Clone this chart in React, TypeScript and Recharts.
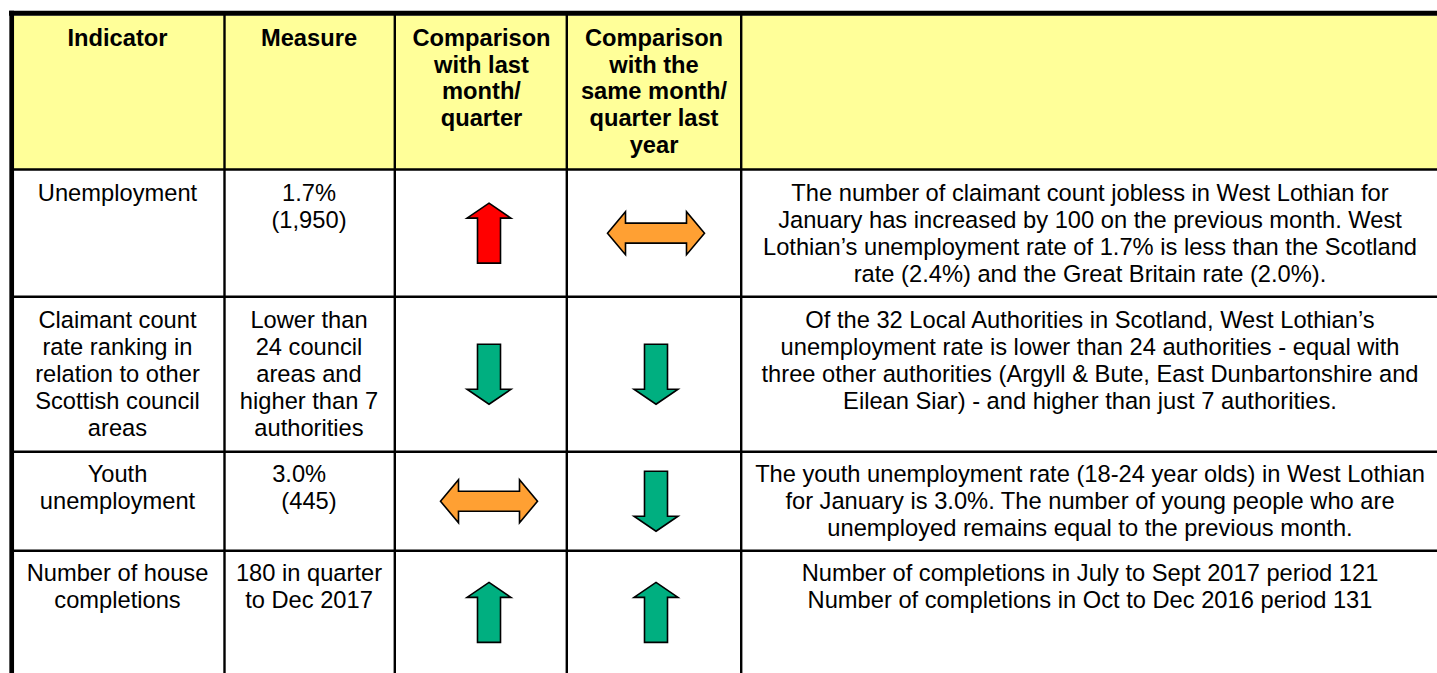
import React from "react";
import { ScatterChart, Scatter, XAxis, YAxis, ReferenceArea, ReferenceLine } from "recharts";

// ---- Table content (data) ----
const headerLabels: string[][] = [
  ["Indicator"],
  ["Measure"],
  ["Comparison", "with last", "month/", "quarter"],
  ["Comparison", "with the", "same month/", "quarter last", "year"],
  [],
];

const indicatorLabels: string[][] = [
  ["Unemployment"],
  ["Claimant count", "rate ranking in", "relation to other", "Scottish council", "areas"],
  ["Youth", "unemployment"],
  ["Number of house", "completions"],
];

const measureLabels: string[][] = [
  ["1.7%", "(1,950)"],
  ["Lower than", "24 council", "areas and", "higher than 7", "authorities"],
  ["3.0%\u00a0\u00a0\u00a0", "(445)"],
  ["180 in quarter", "to Dec 2017"],
];

const commentaryLabels: string[][] = [
  [
    "The number of claimant count jobless in West Lothian for",
    "January has increased by 100 on the previous month. West",
    "Lothian\u2019s unemployment rate of 1.7% is less than the Scotland",
    "rate (2.4%) and the Great Britain rate (2.0%).",
  ],
  [
    "Of the 32 Local Authorities in Scotland, West Lothian\u2019s",
    "unemployment rate is lower than 24 authorities - equal with",
    "three other authorities (Argyll & Bute, East Dunbartonshire and",
    "Eilean Siar) - and higher than just 7 authorities.",
  ],
  [
    "The youth unemployment rate (18-24 year olds) in West Lothian",
    "for January is 3.0%. The number of young people who are",
    "unemployed remains equal to the previous month.",
  ],
  [
    "Number of completions in July to Sept 2017 period 121",
    "Number of completions in Oct to Dec 2016 period 131",
  ],
];

// trend vs last month/quarter and vs same month/quarter last year
const lastPeriodTrend = ["up", "down", "level", "up"];
const lastPeriodOutcome = ["worse", "better", "neutral", "better"];
const lastYearTrend = ["level", "down", "down", "up"];
const lastYearOutcome = ["neutral", "better", "better", "better"];

// ---- Layout (table geometry in chart units = px) ----
const W = 1437;
const H = 673;
const colEdges = [14, 224.5, 394.8, 566.8, 741.2, 1440];
const rowEdges = [13.2, 169.5, 296.8, 451.7, 550.8, 674];
const textCenters = [117.5, 309, 481.5, 654, 1090];
const firstBaselines = [46, 200.7, 327.7, 481.7, 581];
const headerPitch = 26.7;
const bodyPitch = 27;
const arrowCols = [489, 656];
const FONT = "'Liberation Sans', Arial, Helvetica, sans-serif";
const FS = 23.7;

const toneColor: Record<string, string> = {
  worse: "#FF0000",
  better: "#00AF80",
  neutral: "#FFA033",
};

type TextPt = { x: number; y: number; text: string; bold: boolean };
type ArrowPt = { x: number; y: number; dir: string; color: string };

const textPoints: TextPt[] = [];
headerLabels.forEach((lines, c) =>
  lines.forEach((t, i) =>
    textPoints.push({ x: textCenters[c], y: firstBaselines[0] + i * headerPitch, text: t, bold: true })
  )
);
[indicatorLabels, measureLabels, null, null, commentaryLabels].forEach((colData, c) => {
  if (!colData) return;
  colData.forEach((lines, r) =>
    lines.forEach((t, i) =>
      textPoints.push({ x: textCenters[c], y: firstBaselines[r + 1] + i * bodyPitch, text: t, bold: false })
    )
  );
});

const arrowPoints: ArrowPt[] = [];
[ [lastPeriodTrend, lastPeriodOutcome], [lastYearTrend, lastYearOutcome] ].forEach(([trend, outcome], k) =>
  trend.forEach((d, r) =>
    arrowPoints.push({
      x: arrowCols[k],
      y: (rowEdges[r + 1] + rowEdges[r + 2]) / 2,
      dir: d,
      color: toneColor[outcome[r]],
    })
  )
);

const TextShape = (props: any) => {
  const { cx, cy, payload } = props;
  return (
    <text
      x={cx}
      y={cy}
      textAnchor="middle"
      fontFamily={FONT}
      fontSize={FS}
      fontWeight={payload.bold ? 700 : 400}
      fill="#000"
      style={{ whiteSpace: "pre" }}
    >
      {payload.text}
    </text>
  );
};

const ArrowShape = (props: any) => {
  const { cx, cy, payload } = props;
  let pts: number[][];
  if (payload.dir === "up" || payload.dir === "down") {
    const hw = 22, sw = 11.5, hh = 30, head = 15;
    pts = [
      [0, -hh], [hw, -hh + head], [sw, -hh + head], [sw, hh], [-sw, hh], [-sw, -hh + head], [-hw, -hh + head],
    ];
    if (payload.dir === "down") pts = pts.map(([x, y]) => [x, -y]);
  } else {
    const hl = 48.5, head = 18, hh = 21.5, sh = 10;
    pts = [
      [-hl, 0], [-hl + head, -hh], [-hl + head, -sh], [hl - head, -sh], [hl - head, -hh], [hl, 0],
      [hl - head, hh], [hl - head, sh], [-hl + head, sh], [-hl + head, hh],
    ];
  }
  const d = pts.map(([x, y], i) => `${i === 0 ? "M" : "L"}${cx + x},${cy + y}`).join(" ") + " Z";
  return <path d={d} fill={payload.color} stroke="#000" strokeWidth={1.6} strokeLinejoin="miter" />;
};

export default function App() {
  const thin = 2.4;
  return (
    <div style={{ position: "absolute", left: 0, top: 0, width: W, height: H, overflow: "hidden", background: "#fff" }}>
      <ScatterChart width={W} height={H} margin={{ top: 0, right: 0, bottom: 0, left: 0 }}>
        <XAxis type="number" dataKey="x" domain={[0, W]} allowDataOverflow hide />
        <YAxis type="number" dataKey="y" domain={[0, H]} allowDataOverflow reversed hide />
        <ReferenceArea
          x1={colEdges[0]}
          x2={W}
          y1={15.7}
          y2={rowEdges[1]}
          fill="#FFFF99"
          fillOpacity={1}
          stroke="none"
          ifOverflow="visible"
        />
        {rowEdges.slice(1, 5).map((y, i) => (
          <ReferenceLine
            key={"h" + i}
            segment={[{ x: colEdges[0], y }, { x: W, y }]}
            stroke="#000"
            strokeWidth={thin}
            ifOverflow="visible"
          />
        ))}
        {colEdges.slice(1, 5).map((x, i) => (
          <ReferenceLine
            key={"v" + i}
            segment={[{ x, y: rowEdges[0] }, { x, y: H }]}
            stroke="#000"
            strokeWidth={thin}
            ifOverflow="visible"
          />
        ))}
        <ReferenceLine
          segment={[{ x: 9, y: rowEdges[0] }, { x: W, y: rowEdges[0] }]}
          stroke="#000"
          strokeWidth={5}
          ifOverflow="visible"
        />
        <ReferenceLine
          segment={[{ x: 11.7, y: 10.7 }, { x: 11.7, y: H }]}
          stroke="#000"
          strokeWidth={4.7}
          ifOverflow="visible"
        />
        <Scatter data={textPoints} shape={TextShape} isAnimationActive={false} />
        <Scatter data={arrowPoints} shape={ArrowShape} isAnimationActive={false} />
      </ScatterChart>
    </div>
  );
}
